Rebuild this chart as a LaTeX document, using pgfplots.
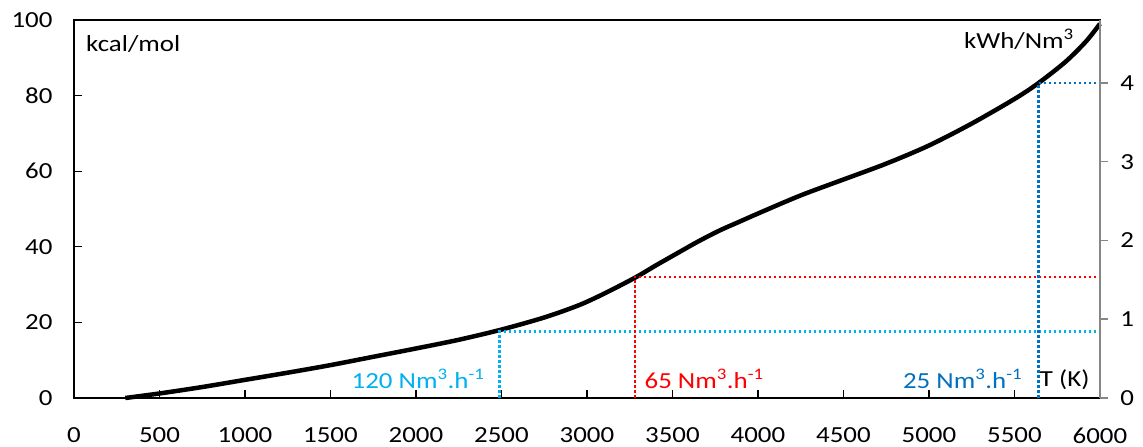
\documentclass[border=0pt]{standalone}
\usepackage{fontspec}
\setmainfont{Carlito}[FakeStretch=1.17]
\usepackage{pgfplots}
\pgfplotsset{compat=1.18}
\usepackage{pgfplotstable}

\definecolor{lightblue}{HTML}{00B0F0}
\definecolor{darkblue}{HTML}{0070C0}
\definecolor{spinegray}{HTML}{868686}

% Energy required vs. temperature (kcal/mol)
\pgfplotstableread{
T     E
300   0
500   1.2
750   2.9
1000  4.8
1250  6.7
1500  8.7
1750  10.9
2000  13.1
2250  15.4
2500  18.1
2750  21.3
2950  24.5
3100  27.6
3280  31.8
3400  35.0
3540  38.6
3650  41.4
3775  44.3
3900  46.8
4000  48.8
4250  53.6
4500  57.8
4750  62.0
5000  66.8
5250  72.6
5500  79.1
5640  83.3
5800  89.0
5920  94.4
6000  99.0
}\energy

\newcommand{\lbl}{\fontsize{23}{27}\selectfont}

\begin{document}
\begin{tikzpicture}
\useasboundingbox (-74pt,-49pt) rectangle (1069pt,398pt);
\begin{axis}[
  at={(0pt,0pt)}, anchor=south west,
  scale only axis, width=1026pt, height=378pt,
  xmin=0, xmax=6000, ymin=0, ymax=100,
  xtick={0,500,...,6000}, ytick={0,20,...,100},
  xtick pos=bottom, ytick pos=left,
  tick align=inside, major tick length=8pt,
  axis line style={line width=1.5pt, black},
  every tick/.style={line width=1.2pt, black},
  tick label style={font=\lbl},
  /pgf/number format/assume math mode=true,
  /pgf/number format/1000 sep={},
  xticklabel shift=26pt,
  yticklabel shift=18pt,
  clip=false,
]
\addplot[black, line width=4.5pt, smooth] table[x=T, y=E] {\energy};

% 120 Nm3/h operating point
\addplot[lightblue, line width=2.7pt, dash pattern=on 2.5pt off 2.5pt]
  coordinates {(2490,0) (2490,17.5) (6000,17.5)};
% 65 Nm3/h operating point
\addplot[red, line width=2.7pt, dash pattern=on 2.5pt off 2.5pt]
  coordinates {(3280,0) (3280,32.0) (6000,32.0)};
% 25 Nm3/h operating point
\addplot[darkblue, line width=2.7pt, dash pattern=on 2.5pt off 2.5pt]
  coordinates {(5640,0) (5640,83.3) (6000,83.3)};

\node[anchor=base west, inner sep=0pt, font=\lbl] at (axis cs:70,91.6) {kcal/mol};
\node[anchor=base east, inner sep=0pt, font=\lbl] at (axis cs:5848,92.5) {kWh/Nm\textsuperscript{3}};
\node[anchor=base east, inner sep=0pt, font=\lbl, text=lightblue] at (axis cs:2401,2.6) {120 Nm\textsuperscript{3}.h\textsuperscript{-1}};
\node[anchor=base west, inner sep=0pt, font=\lbl, text=red] at (axis cs:3336,2.6) {65 Nm\textsuperscript{3}.h\textsuperscript{-1}};
\node[anchor=base east, inner sep=0pt, font=\lbl, text=darkblue] at (axis cs:5546,2.6) {25 Nm\textsuperscript{3}.h\textsuperscript{-1}};
\node[anchor=base west, inner sep=0pt, font=\lbl] at (axis cs:5648,3.0) {T (K)};
\end{axis}

% secondary scale in kWh/Nm3
\begin{axis}[
  at={(0pt,0pt)}, anchor=south west,
  scale only axis, width=1026pt, height=378pt,
  xmin=0, xmax=6000, ymin=0, ymax=4.8,
  axis x line=none, axis y line*=right,
  ytick={0,1,2,3,4},
  tick align=outside, major tick length=8pt,
  y axis line style={line width=2pt, spinegray, -},
  every tick/.style={line width=1.5pt, spinegray},
  tick label style={font=\lbl, text=black},
  /pgf/number format/assume math mode=true,
  yticklabel shift=9pt,
]
\addplot[draw=none] coordinates {(0,0) (6000,4.8)};
\end{axis}
\end{tikzpicture}
\end{document}
